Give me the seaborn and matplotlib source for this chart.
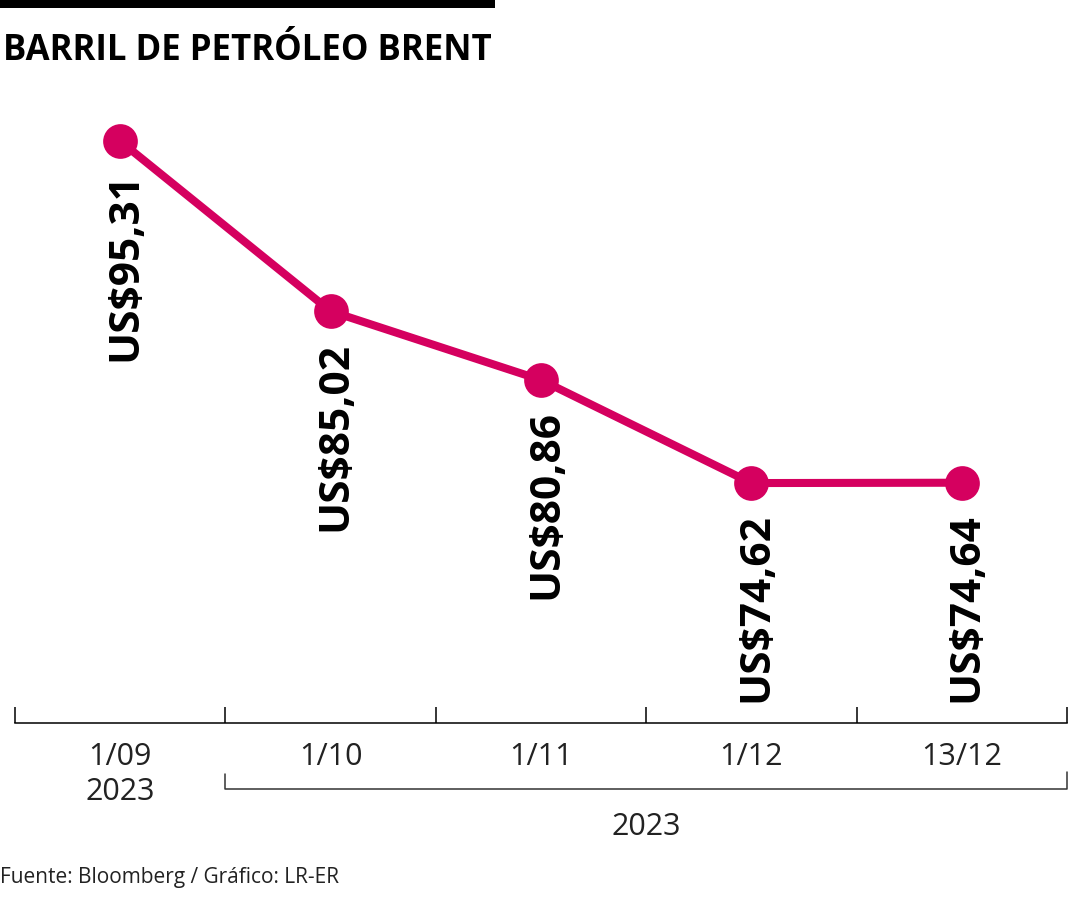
import numpy as np
import pandas as pd
import seaborn as sns
import matplotlib.pyplot as plt
from matplotlib.patches import Rectangle

# datos
fechas = ["1/09\n2023", "1/10", "1/11", "1/12", "13/12"]
precios = [95.31, 85.02, 80.86, 74.62, 74.64]
anio = "2023"
titulo = "BARRIL DE PETRÓLEO BRENT"
fuente = "Fuente: Bloomberg / Gráfico: LR-ER"

COLOR = "#D5005F"

sns.set_style("white")
plt.rcParams["font.family"] = ["Open Sans", "DejaVu Sans"]

df = pd.DataFrame({"pos": np.arange(len(precios)), "precio": precios})

fig = plt.figure(figsize=(10.8, 9), dpi=100)
ax = fig.add_axes([15 / 1080, 177 / 900, 1052 / 1080, 623 / 900])

sns.lineplot(data=df, x="pos", y="precio", ax=ax, color=COLOR, linewidth=5.8,
             marker="o", markersize=25, markeredgewidth=0, clip_on=False)

ax.set_xlim(-0.5, len(precios) - 0.5)
ax.set_ylim(60.1, 97.8)

# etiquetas de valor, verticales bajo cada punto
for i, v in enumerate(precios):
    etiqueta = f"US${v:.2f}".replace(".", ",")
    ax.annotate(etiqueta, (i, v), xytext=(4, -22), textcoords="offset points",
                rotation=90, ha="center", va="top", fontsize=30.5,
                fontweight="bold", color="black")

# eje x: marcas en los limites de cada categoria
for s in ["top", "right", "left"]:
    ax.spines[s].set_visible(False)
ax.spines["bottom"].set_linewidth(1.1)
ax.spines["bottom"].set_color("black")
ax.set_yticks([])
ax.set_xticks(np.arange(-0.5, len(precios), 1.0))
ax.set_xticklabels([])
ax.tick_params(axis="x", which="major", bottom=True, direction="in", length=11.5,
               width=1.1, color="black")
ax.set_xticks(np.arange(len(precios)), minor=True)
ax.set_xticklabels(fechas, minor=True, fontsize=22, color="#222222", linespacing=1.2)
ax.tick_params(axis="x", which="minor", bottom=True, length=0, pad=14)
ax.set_xlabel("")
ax.set_ylabel("")

# corchete del año 2023
tr = ax.get_xaxis_transform()
ax.plot([0.5, 0.5, 4.5, 4.5], [-0.082, -0.106, -0.106, -0.078], transform=tr,
        color="#333333", linewidth=1.1, clip_on=False)
ax.text(2.5, -0.167, anio, transform=tr, ha="center", va="center",
        fontsize=22, color="#222222")

# titulo y fuente
fig.add_artist(Rectangle((0, 892 / 900), 495 / 1080, 8 / 900, transform=fig.transFigure,
                         color="black", lw=0))
fig.text(3 / 1080, (900 - 60) / 900, titulo, ha="left", va="baseline",
         fontsize=25, fontweight="bold", color="black")
fig.text(0, (900 - 883) / 900, fuente, ha="left", va="baseline",
         fontsize=15, color="#222222")

fig.savefig("out.png", dpi=100)
